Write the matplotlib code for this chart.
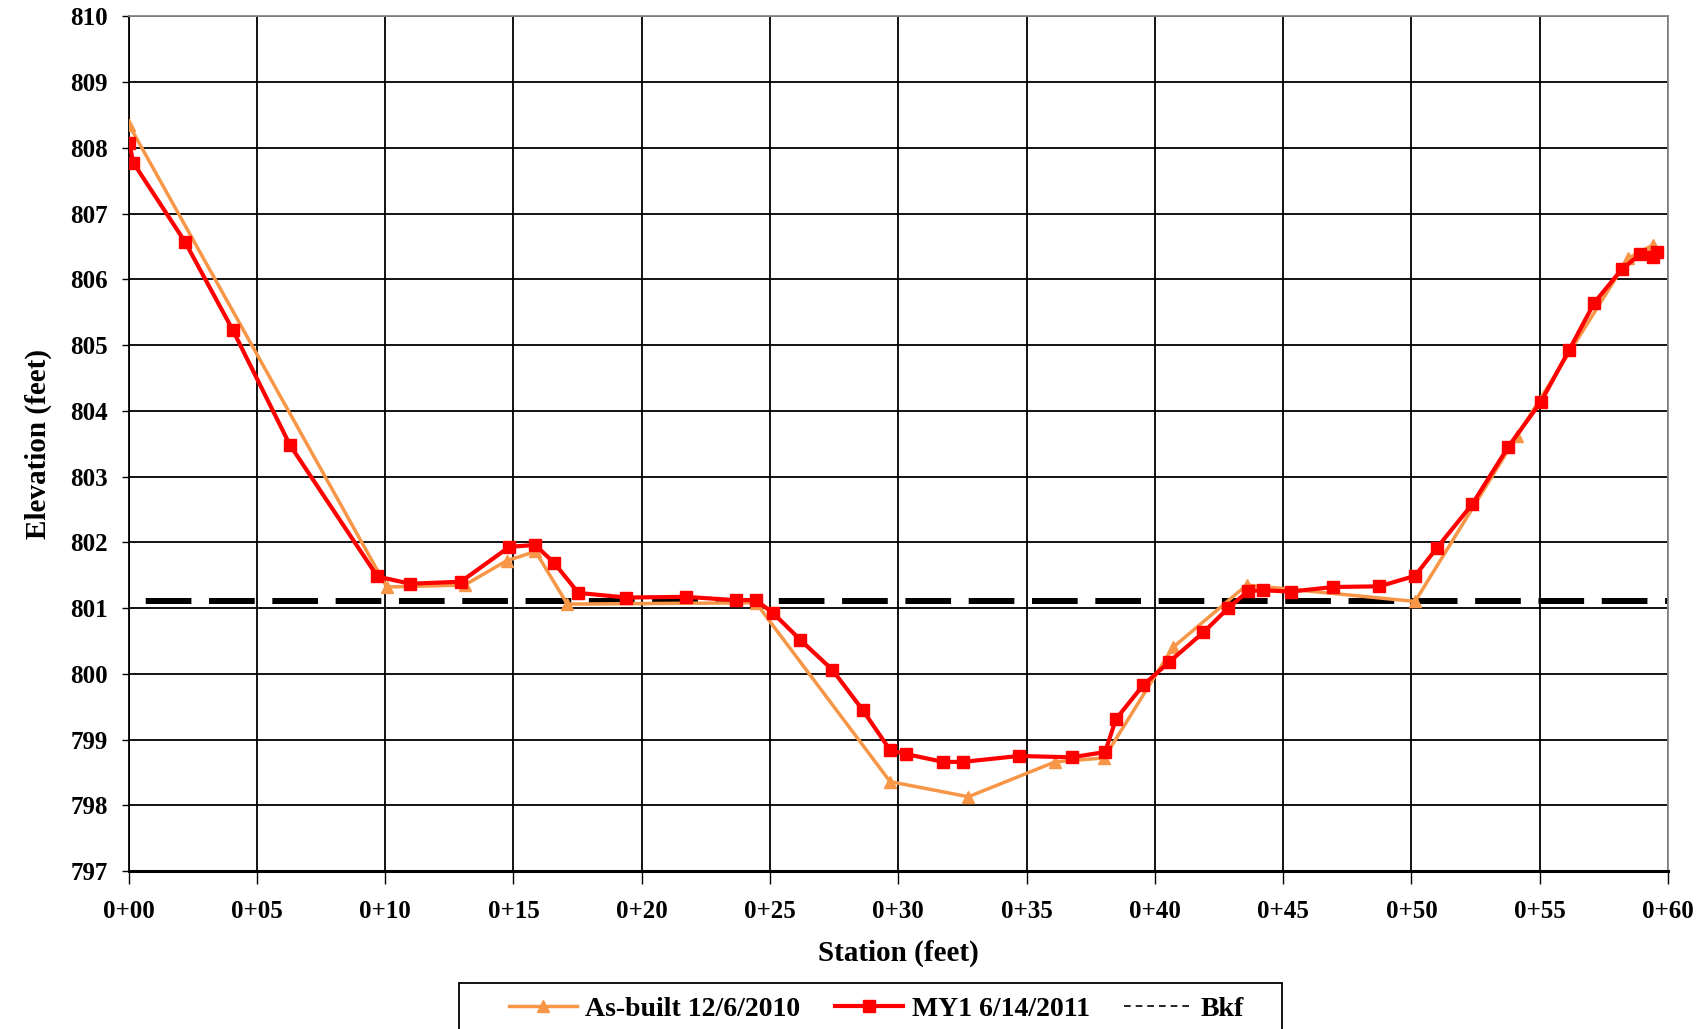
import matplotlib
matplotlib.use("Agg")
import matplotlib.pyplot as plt
from matplotlib.lines import Line2D
from matplotlib.patches import Rectangle
from matplotlib.ticker import FuncFormatter, MultipleLocator

# ---- data ----
asbuilt_x = [0.03, 10.06, 13.1, 14.74, 15.86, 17.10, 24.45, 29.68, 32.73, 36.11,
             38.02, 40.70, 43.58, 50.14, 54.10, 58.45, 59.40]
asbuilt_y = [808.34, 801.32, 801.35, 801.72, 801.86, 801.06, 801.08, 798.36, 798.13, 798.66,
             798.72, 800.40, 801.35, 801.10, 803.61, 806.32, 806.52]

my1_x = [0.03, 0.19, 2.20, 4.06, 6.29, 9.70, 10.97, 12.95, 14.84, 15.84, 16.58, 17.53,
         19.39, 21.73, 23.66, 24.45, 25.13, 26.17, 27.43, 28.61, 29.68, 30.29, 31.75,
         32.51, 34.70, 36.76, 38.06, 38.48, 39.55, 40.56, 41.89, 42.86, 43.64, 44.22,
         45.29, 46.95, 48.75, 50.14, 50.98, 52.37, 53.77, 55.05, 56.14, 57.12, 58.19,
         58.91, 59.40, 59.57]
my1_y = [808.07, 807.77, 806.57, 805.23, 803.48, 801.48, 801.37, 801.40, 801.93, 801.96,
         801.69, 801.23, 801.16, 801.17, 801.12, 801.12, 800.92, 800.52, 800.06, 799.45,
         798.84, 798.78, 798.66, 798.66, 798.75, 798.73, 798.81, 799.31, 799.83, 800.18,
         800.63, 801.00, 801.26, 801.27, 801.25, 801.32, 801.33, 801.49, 801.91, 802.58,
         803.45, 804.14, 804.92, 805.64, 806.15, 806.38, 806.34, 806.41]

bkf_x = [0, 60]
bkf_y = [801.1, 801.1]

series_labels = ["As-built 12/6/2010", "MY1 6/14/2011", "Bkf"]

plt.rcParams['font.family'] = ['Liberation Serif', 'DejaVu Serif']
plt.rcParams['font.weight'] = 'bold'

fig = plt.figure(figsize=(17.07, 10.29), dpi=100)
ax = fig.add_axes([0.0753, 0.1535, 0.9019, 0.8307])

orange = '#F79646'
red = '#FF0000'

ax.plot(bkf_x, bkf_y, color='black', lw=4.3,
        linestyle=(7.8, (7.65, 2.95)), zorder=2, dash_capstyle='butt')
ax.plot(asbuilt_x, asbuilt_y, color=orange, lw=2.5, marker='^', ms=8.5,
        markeredgecolor=orange, markerfacecolor=orange, zorder=3)
ax.plot(my1_x, my1_y, color=red, lw=3.0, marker='s', ms=8.5,
        markeredgecolor=red, markerfacecolor=red, zorder=4)

ax.set_xlim(0, 60)
ax.set_ylim(797, 810)
ax.xaxis.set_major_locator(MultipleLocator(5))
ax.yaxis.set_major_locator(MultipleLocator(1))
ax.xaxis.set_major_formatter(FuncFormatter(lambda v, p: "0+%02d" % int(round(v))))
ax.yaxis.set_major_formatter(FuncFormatter(lambda v, p: "%d" % int(round(v))))

ax.grid(True, color='black', lw=1.3)
ax.set_axisbelow(True)
for s in ['top', 'right']:
    ax.spines[s].set_color('#888888')
    ax.spines[s].set_linewidth(1.3)
ax.spines['left'].set_color('black')
ax.spines['left'].set_linewidth(1.3)
ax.spines['bottom'].set_color('black')
ax.spines['bottom'].set_linewidth(2.2)

ax.tick_params(axis='both', direction='out', labelsize=18, width=1, color='black')
ax.tick_params(axis='x', length=9, pad=12)
ax.tick_params(axis='y', length=5, pad=10)
for lab in ax.get_xticklabels() + ax.get_yticklabels():
    lab.set_fontweight('bold')

ax.set_xlabel("Station (feet)", fontsize=21, fontweight='bold', labelpad=12)
ax.set_ylabel("Elevation (feet)", fontsize=21, fontweight='bold', labelpad=13)

# legend frame (extends past the bottom edge, as in the reference)
W, H = 1707.0, 1029.0
frame = Rectangle((459 / W, -0.05), 823 / W, (H - 983) / H + 0.05,
                  transform=fig.transFigure, fill=False, edgecolor='black',
                  lw=1.3, zorder=5)
fig.patches.append(frame)

handles = [
    Line2D([], [], color=orange, lw=2.5, marker='^', ms=8),
    Line2D([], [], color=red, lw=3.0, marker='s', ms=8),
    Line2D([], [], color='black', lw=1.2, linestyle=(0, (4, 3))),
]
leg = fig.legend(handles, series_labels, loc='center',
                 bbox_to_anchor=(876.5 / W, 0.0194), ncol=3, frameon=False,
                 fontsize=20, handlelength=2.45, columnspacing=1.25,
                 borderpad=0, borderaxespad=0, handletextpad=0.3)
for t in leg.get_texts():
    t.set_fontweight('bold')

fig.savefig("out.png", dpi=100)
